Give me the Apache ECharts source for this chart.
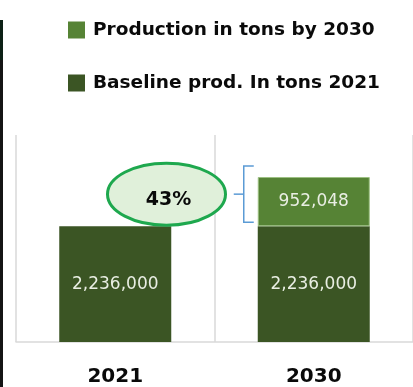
<!DOCTYPE html>
<html>
<head>
<meta charset="utf-8">
<script src="https://cdn.jsdelivr.net/npm/echarts@6/dist/echarts.min.js"></script>
<style>
  html, body { margin: 0; padding: 0; background: #ffffff; }
  #chart { width: 413px; height: 387px; }
</style>
</head>
<body>
<div id="chart"></div>
<script>
// Production data (tons)
const years = ['2021', '2030'];
const baselineTons = [2236000, 2236000];
const addedTons = [null, 952048];
const seriesNames = ['Baseline prod. In tons 2021', 'Production in tons by 2030'];
const legendOrder = ['Production in tons by 2030', 'Baseline prod. In tons 2021'];
const valueMax = 4000000;

const DARK = '#3b5524';
const LIGHT = '#568335';
const GRID_GRAY = '#d9d9d9';

const chart = echarts.init(document.getElementById('chart'), null, { renderer: 'canvas' });

const fmt = v => Number(v).toLocaleString('en-US');

const valueLabel = {
  show: true,
  position: 'inside',
  color: '#e9eee3',
  fontFamily: 'DejaVu Sans',
  fontWeight: 'normal',
  fontSize: 17,
  formatter: p => fmt(p.value)
};

const option = {
  animation: false,
  backgroundColor: '#ffffff',
  grid: { left: 16, top: 135, bottom: 41, width: 404, containLabel: false },
  legend: {
    data: legendOrder,
    orient: 'vertical',
    left: 68,
    top: 19,
    padding: 0,
    icon: 'rect',
    itemWidth: 17,
    itemHeight: 17,
    itemGap: 31,
    selectedMode: false,
    itemStyle: { borderWidth: 0 },
    textStyle: {
      color: '#0a0a0a',
      fontFamily: 'DejaVu Sans',
      fontWeight: 'bold',
      fontSize: 18.5,
      lineHeight: 22,
      padding: [0, 0, 0, 3]
    }
  },
  xAxis: {
    type: 'category',
    data: years,
    axisLine: { lineStyle: { color: GRID_GRAY, width: 1.5 } },
    axisTick: { show: false },
    splitLine: { show: true, lineStyle: { color: GRID_GRAY, width: 1.5 } },
    axisLabel: {
      margin: 25,
      color: '#0a0a0a',
      fontFamily: 'DejaVu Sans',
      fontWeight: 'bold',
      fontSize: 20
    }
  },
  yAxis: { type: 'value', min: 0, max: valueMax, show: false },
  series: [
    {
      name: seriesNames[0],
      type: 'bar',
      stack: 'tons',
      data: baselineTons,
      barWidth: 112,
      itemStyle: { color: DARK },
      label: valueLabel
    },
    {
      name: seriesNames[1],
      type: 'bar',
      stack: 'tons',
      data: addedTons,
      barWidth: 112,
      itemStyle: { color: LIGHT, borderColor: '#9cc083', borderWidth: 1 },
      label: valueLabel
    }
  ]
};

chart.setOption(option);

// Annotation: growth bracket beside the added segment and a percentage bubble
const idx = 1;
const base = baselineTons[idx];
const added = addedTons[idx];
const barHalf = 56;
const [cx2030, yBase] = chart.convertToPixel({ gridIndex: 0 }, [idx, base]);
const [, yTop] = chart.convertToPixel({ gridIndex: 0 }, [idx, base + added]);
const [cx2021] = chart.convertToPixel({ gridIndex: 0 }, [0, base]);
const boundaryX = (cx2021 + cx2030) / 2;
const barLeft = cx2030 - barHalf;

const brTop = yTop - 11;
const brBottom = yBase - 4;
const brMid = (brTop + brBottom) / 2;
const brX = barLeft - 14;
const pct = Math.round(added / base * 100) + '%';

const BLUE = '#5b9bd5';

chart.setOption({
  graphic: [
    // thin dark strip on the left edge
    { type: 'rect', left: 0, top: 20, shape: { width: 3, height: 367 }, style: { fill: '#141414' }, z: 100 },
    { type: 'rect', left: 0, top: 20, shape: { width: 3, height: 40 }, style: { fill: '#0c2016' }, z: 101 },
    {
      type: 'polyline',
      shape: { points: [[barLeft - 4, brTop], [brX, brTop], [brX, brBottom], [barLeft - 4, brBottom]] },
      style: { stroke: BLUE, lineWidth: 1.5, fill: null },
      z: 100
    },
    {
      type: 'line',
      shape: { x1: brX - 10, y1: brMid, x2: brX, y2: brMid },
      style: { stroke: BLUE, lineWidth: 1.5 },
      z: 100
    },
    {
      type: 'ellipse',
      shape: { cx: boundaryX - 48, cy: brMid, rx: 59, ry: 31 },
      style: { fill: '#e0f0da', stroke: '#1ea84e', lineWidth: 3 },
      z: 100
    },
    {
      type: 'text',
      x: boundaryX - 46,
      y: brMid + 6,
      style: {
        text: pct,
        fill: '#0a0a0a',
        font: 'bold 19px "DejaVu Sans"',
        align: 'center',
        verticalAlign: 'middle'
      },
      z: 101
    }
  ]
});
</script>
</body>
</html>
